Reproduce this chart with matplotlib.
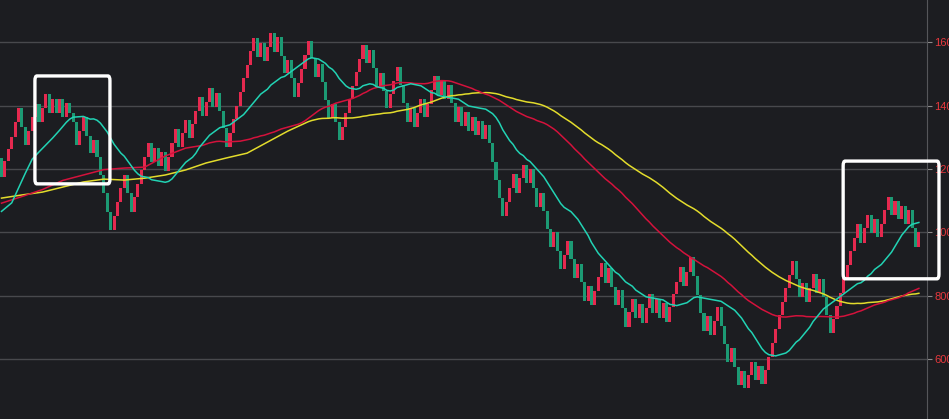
import numpy as np
import pandas as pd
import matplotlib.pyplot as plt
from matplotlib.patches import FancyBboxPatch

# daily closes (each bar opens at the previous close)
first_open = 1235
closes = [
    1175, 1225, 1263, 1301, 1348, 1393, 1333, 1276, 1320, 1364,
    1405, 1348, 1393, 1437, 1377, 1421, 1377, 1421, 1364, 1408,
    1377, 1348, 1276, 1320, 1364, 1304, 1250, 1292, 1238, 1181,
    1124, 1064, 1007, 1052, 1096, 1140, 1181, 1124, 1064, 1112,
    1153, 1197, 1238, 1282, 1222, 1266, 1209, 1254, 1194, 1238,
    1282, 1326, 1269, 1314, 1355, 1298, 1342, 1383, 1427, 1367,
    1412, 1456, 1396, 1440, 1383, 1329, 1269, 1314, 1358, 1399,
    1443, 1487, 1528, 1573, 1614, 1554, 1598, 1541, 1585, 1629,
    1569, 1617, 1557, 1503, 1544, 1487, 1427, 1472, 1516, 1560,
    1604, 1550, 1490, 1532, 1475, 1418, 1361, 1405, 1348, 1292,
    1333, 1377, 1421, 1462, 1506, 1547, 1592, 1535, 1576, 1519,
    1459, 1503, 1446, 1393, 1437, 1478, 1522, 1465, 1408, 1348,
    1393, 1333, 1377, 1421, 1364, 1405, 1449, 1494, 1434, 1481,
    1421, 1465, 1408, 1348, 1396, 1336, 1380, 1320, 1364, 1307,
    1352, 1295, 1339, 1282, 1222, 1165, 1108, 1052, 1096, 1140,
    1184, 1124, 1172, 1213, 1156, 1200, 1140, 1080, 1124, 1067,
    1010, 954, 1001, 941, 884, 928, 973, 916, 856, 900,
    843, 783, 830, 770, 815, 859, 903, 840, 887, 827,
    770, 818, 761, 701, 748, 789, 729, 774, 714, 761,
    805, 745, 789, 729, 777, 717, 764, 805, 843, 890,
    830, 875, 922, 862, 802, 745, 688, 736, 676, 720,
    764, 704, 647, 590, 635, 575, 518, 562, 508, 549,
    590, 534, 578, 521, 565, 606, 650, 695, 739, 780,
    824, 865, 909, 853, 796, 840, 780, 824, 868, 808,
    853, 796, 739, 682, 726, 767, 808, 856, 897, 941,
    982, 1026, 966, 1014, 1055, 998, 1042, 985, 1026, 1070,
    1112, 1055, 1099, 1042, 1083, 1026, 1070, 1014, 954, 1001,
]

# moving-average values at the left edge (their history is off-screen)
ma20_head_idx = [0, 3, 5, 7, 9, 11, 13, 15, 17]
ma20_head = [1066, 1093, 1140, 1187, 1231, 1254, 1276, 1298, 1322]
ma60_head_idx = [0, 6, 12, 18, 24, 30, 36, 42, 48, 54]
ma60_head = [1092, 1113, 1135, 1164, 1181, 1198, 1203, 1206, 1241, 1266]
ma90_head_idx = [0, 6, 12, 18, 24, 30, 36, 42, 48, 54, 60, 66, 72, 78, 84]
ma90_head = [1108, 1118, 1127, 1143, 1159, 1168, 1165, 1171, 1181, 1197,
             1219, 1235, 1250, 1285, 1320]

y_ticks = [600, 800, 1000, 1200, 1400, 1600]

BG = "#1c1d21"
UP = "#e5294f"
DOWN = "#1c9a74"

close = np.array(closes, dtype=float)
opens = np.r_[first_open, close[:-1]]
idx = np.arange(len(close))
s = pd.Series(close)


def ma_line(n, head_idx, head):
    calc = s.rolling(n).mean()
    xs = list(head_idx) + list(idx[n - 1:])
    ys = list(head) + list(calc.values[n - 1:])
    return xs, ys


fig = plt.figure(figsize=(9.49, 4.19), dpi=100, facecolor=BG)
ax = fig.add_axes([0, 0, 926.7 / 949, 1])
ax.set_facecolor(BG)

colors = [UP if c >= o else DOWN for o, c in zip(opens, close)]
ax.bar(idx, close - opens, bottom=opens, width=0.9, color=colors,
       linewidth=0, antialiased=False, zorder=3)

for n, hi, hv, col in [(90, ma90_head_idx, ma90_head, "#e3dc2c"),
                       (60, ma60_head_idx, ma60_head, "#d4123c"),
                       (20, ma20_head_idx, ma20_head, "#22d3b4")]:
    xs, ys = ma_line(n, hi, hv)
    ax.plot(xs, ys, color=col, lw=1.1, zorder=4)

# highlight boxes
for x0, x1, y0, y1 in [(9.8, 31.8, 1153, 1494), (246.8, 274.9, 853, 1225)]:
    box = FancyBboxPatch((x0, y0), x1 - x0, y1 - y0,
                         boxstyle="round,pad=0,rounding_size=0.6",
                         fill=False, edgecolor="white", lw=2.4,
                         clip_on=False, zorder=6, mutation_aspect=25)
    ax.add_patch(box)

ax.set_xlim(-0.44, 271.3)
ax.set_ylim(410, 1734)
ax.set_yticks(y_ticks)
ax.set_xticks([])
ax.yaxis.tick_right()
ax.tick_params(axis="y", colors="#8a8a8a", labelcolor="#e8383d",
               labelsize=8, length=3.5, width=0.8, pad=2)
for lab in ax.get_yticklabels():
    lab.set_fontfamily("Liberation Sans")
ax.grid(axis="y", color="#48494d", lw=1)
ax.set_axisbelow(True)
for side in ["left", "top", "bottom"]:
    ax.spines[side].set_visible(False)
ax.spines["right"].set_color("#55565a")

fig.savefig("out.png", dpi=100, facecolor=BG)
